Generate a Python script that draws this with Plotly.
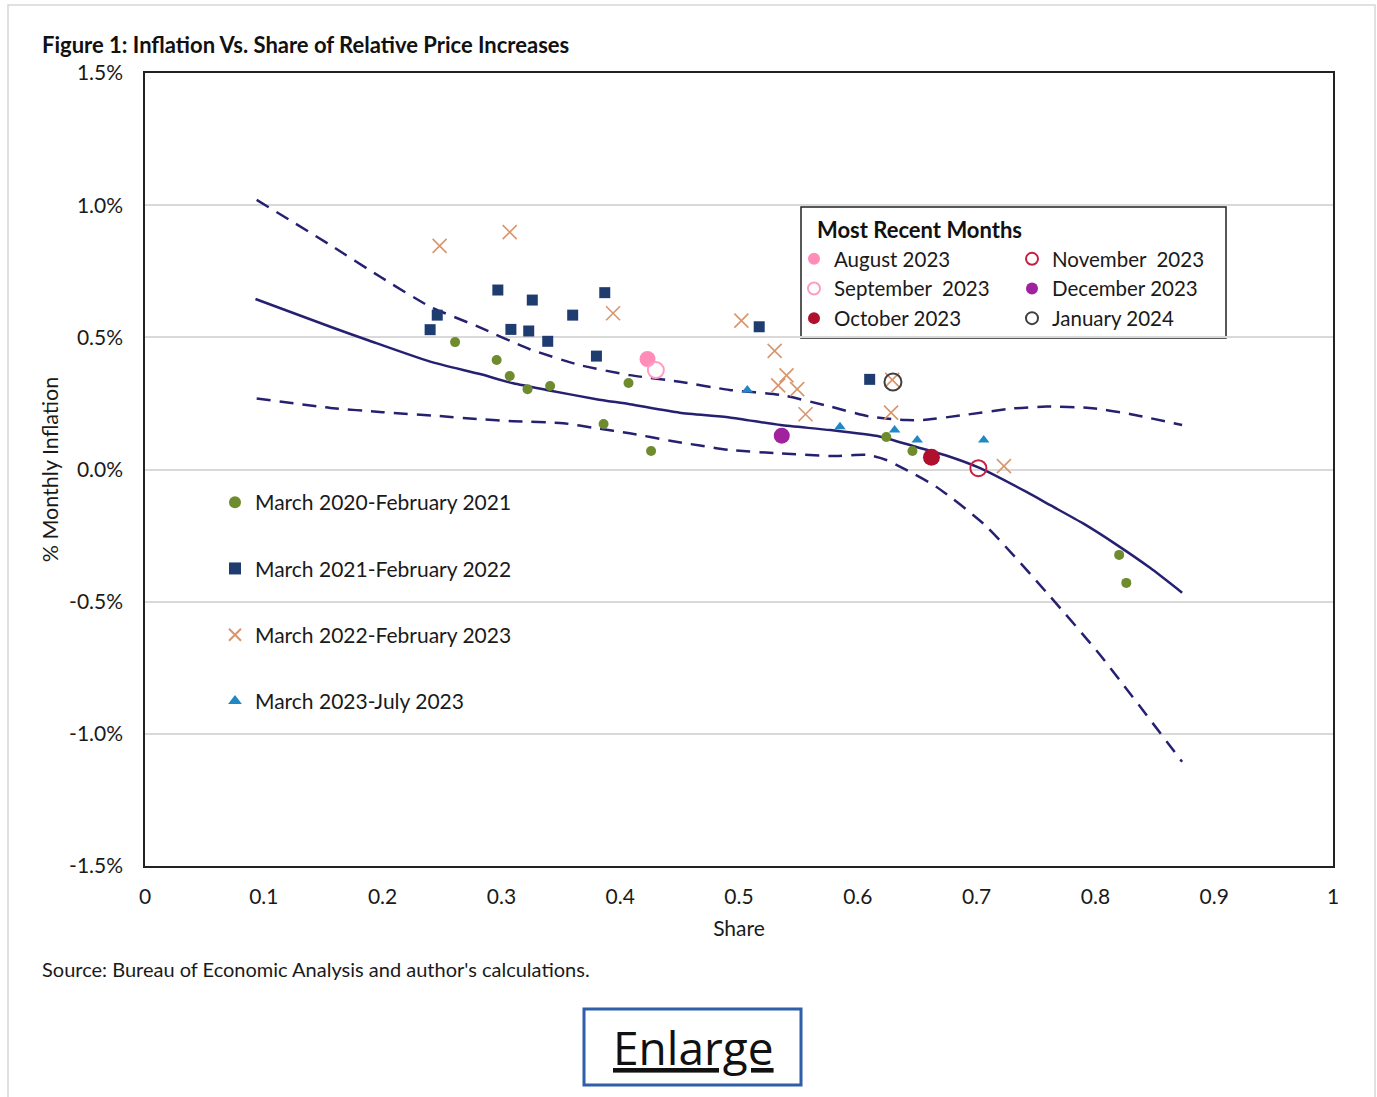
import plotly.graph_objects as go

FONT = "Lato"
TXT = "#1a1a1a"

# ---- data (share, % monthly inflation) ----
p2020_x = [0.261, 0.296, 0.307, 0.322, 0.341, 0.407, 0.386, 0.426, 0.624, 0.646, 0.820, 0.826]
p2020_y = [0.482, 0.414, 0.354, 0.304, 0.316, 0.327, 0.172, 0.070, 0.123, 0.070, -0.323, -0.429]

p2021_x = [0.246, 0.240, 0.297, 0.326, 0.360, 0.387, 0.308, 0.323, 0.339, 0.380, 0.517, 0.610]
p2021_y = [0.584, 0.529, 0.679, 0.641, 0.584, 0.669, 0.530, 0.524, 0.485, 0.429, 0.540, 0.341]

p2022_x = [0.248, 0.307, 0.394, 0.502, 0.530, 0.540, 0.533, 0.549, 0.556, 0.628, 0.723, 0.629]
p2022_y = [0.846, 0.898, 0.591, 0.563, 0.449, 0.356, 0.318, 0.304, 0.209, 0.215, 0.013, 0.339]

p2023_x = [0.507, 0.585, 0.631, 0.650, 0.706]
p2023_y = [0.301, 0.162, 0.149, 0.112, 0.112]

recent_names = ["August 2023", "September  2023", "October 2023",
                "November  2023", "December 2023", "January 2024"]
recent_x = [0.423, 0.430, 0.662, 0.7015, 0.536, 0.6296]
recent_y = [0.418, 0.376, 0.046, 0.005, 0.128, 0.331]

fit_x = [0.093, 0.156, 0.189, 0.240, 0.282, 0.310, 0.338, 0.380, 0.408, 0.450, 0.492,
         0.535, 0.577, 0.619, 0.647, 0.675, 0.703, 0.742, 0.762, 0.790, 0.818, 0.846, 0.873]
fit_y = [0.645, 0.540, 0.487, 0.408, 0.361, 0.326, 0.301, 0.266, 0.247, 0.215, 0.197,
         0.168, 0.149, 0.124, 0.088, 0.052, 0.005, -0.085, -0.135, -0.205, -0.285, -0.372, -0.466]

upper_x = [0.094, 0.156, 0.198, 0.240, 0.279, 0.324, 0.366, 0.408, 0.450, 0.492, 0.535,
           0.577, 0.610, 0.641, 0.655, 0.689, 0.731, 0.759, 0.795, 0.829, 0.873]
upper_y = [1.020, 0.849, 0.729, 0.616, 0.543, 0.455, 0.395, 0.357, 0.332, 0.301, 0.282,
           0.238, 0.200, 0.187, 0.187, 0.206, 0.231, 0.238, 0.233, 0.210, 0.168]

lower_x = [0.094, 0.156, 0.200, 0.248, 0.282, 0.310, 0.352, 0.380, 0.408, 0.442, 0.492,
           0.535, 0.577, 0.608, 0.624, 0.641, 0.666, 0.707, 0.762, 0.804, 0.873]
lower_y = [0.269, 0.233, 0.217, 0.202, 0.190, 0.183, 0.175, 0.156, 0.137, 0.109, 0.074,
           0.061, 0.051, 0.055, 0.036, -0.002, -0.065, -0.210, -0.481, -0.702, -1.106]

y_tickvals = [1.5, 1.0, 0.5, 0.0, -0.5, -1.0, -1.5]
y_ticktext = ["1.5%", "1.0%", "0.5%", "0.0%", "-0.5%", "-1.0%", "-1.5%"]
x_tickvals = [0, 0.1, 0.2, 0.3, 0.4, 0.5, 0.6, 0.7, 0.8, 0.9, 1]
x_ticktext = ["0", "0.1", "0.2", "0.3", "0.4", "0.5", "0.6", "0.7", "0.8", "0.9", "1"]

LINE_COL = "#252070"

fig = go.Figure()

# fitted lines
fig.add_trace(go.Scatter(x=upper_x, y=upper_y, mode="lines", showlegend=False,
                         line=dict(color=LINE_COL, width=2.5, dash="14px,9px", shape="spline", smoothing=0.6),
                         hoverinfo="skip"))
fig.add_trace(go.Scatter(x=lower_x, y=lower_y, mode="lines", showlegend=False,
                         line=dict(color=LINE_COL, width=2.5, dash="14px,9px", shape="spline", smoothing=0.6),
                         hoverinfo="skip"))
fig.add_trace(go.Scatter(x=fit_x, y=fit_y, mode="lines", showlegend=False,
                         line=dict(color=LINE_COL, width=2.5, shape="spline", smoothing=0.6),
                         hoverinfo="skip"))

# period series (left legend)
fig.add_trace(go.Scatter(x=p2020_x, y=p2020_y, mode="markers", name="March 2020-February 2021",
                         legendgroup="a", legend="legend",
                         marker=dict(symbol="circle", size=10, color="#6E8B2E")))
fig.add_trace(go.Scatter(x=p2021_x, y=p2021_y, mode="markers", name="March 2021-February 2022",
                         legendgroup="b", legend="legend",
                         marker=dict(symbol="square", size=11, color="#1F3C70")))
fig.add_trace(go.Scatter(x=p2022_x, y=p2022_y, mode="markers", name="March 2022-February 2023",
                         legendgroup="c", legend="legend",
                         marker=dict(symbol="x-thin", size=14, color="#D8956C",
                                     line=dict(color="#D8956C", width=1.6))))
fig.add_trace(go.Scatter(x=p2023_x, y=p2023_y, mode="markers", name="March 2023-July 2023",
                         legendgroup="d", legend="legend",
                         marker=dict(symbol="triangle-up", size=10, color="#2088C4")))

# recent months
recent_styles = [
    dict(symbol="circle", size=16, color="#FF8DB8"),
    dict(symbol="circle-open", size=16, color="#FF9CC6", line=dict(width=2)),
    dict(symbol="circle", size=17, color="#B0102E"),
    dict(symbol="circle-open", size=16, color="#C81E40", line=dict(width=2)),
    dict(symbol="circle", size=16, color="#A0229E"),
    dict(symbol="circle-open", size=17, color="#404040", line=dict(width=2)),
]
recent_legend = ["legend2", "legend2", "legend2", "legend3", "legend3", "legend3"]
for i in range(6):
    fig.add_trace(go.Scatter(x=[recent_x[i]], y=[recent_y[i]], mode="markers",
                             name=recent_names[i], legend=recent_legend[i],
                             marker=recent_styles[i]))

W, H = 1377, 1097
L, R, T, B = 145, 44, 73, 231
pw, ph = W - L - R, H - T - B


def px(xp):
    return (xp - L) / pw


def py(yp):
    return (H - B - yp) / ph


leg_font = dict(family=FONT, size=21, color=TXT)
box_font = dict(family=FONT, size=20.5, color=TXT)

fig.update_layout(
    width=W, height=H,
    margin=dict(l=L, r=R, t=T, b=B),
    paper_bgcolor="white", plot_bgcolor="white",
    font=dict(family=FONT, size=21, color=TXT),
    xaxis=dict(range=[0, 1], tickvals=x_tickvals, ticktext=x_ticktext, showgrid=False,
               zeroline=False, showline=True, mirror=True, linecolor="#222", linewidth=1.5,
               ticks="", ticklabelstandoff=11,
               title=dict(text="Share", font=dict(family=FONT, size=21, color=TXT), standoff=14)),
    yaxis=dict(range=[-1.5, 1.5], tickvals=y_tickvals, ticktext=y_ticktext, showgrid=True,
               gridcolor="#d9d9d9", gridwidth=1.5, zeroline=False, showline=True, mirror=True,
               linecolor="#222", linewidth=1.5, ticks="", ticklabelstandoff=16,
               title=dict(text="% Monthly Inflation", font=dict(family=FONT, size=21.5, color=TXT), standoff=5)),
    legend=dict(x=px(215), y=py(482), xanchor="left", yanchor="top", bgcolor="rgba(0,0,0,0)",
                font=leg_font, tracegroupgap=36, traceorder="grouped", itemsizing="constant"),
    legend2=dict(x=px(794), y=py(239), xanchor="left", yanchor="top", bgcolor="rgba(0,0,0,0)",
                 font=box_font, itemsizing="constant", tracegroupgap=0),
    legend3=dict(x=px(1012), y=py(239), xanchor="left", yanchor="top", bgcolor="rgba(0,0,0,0)",
                 font=box_font, itemsizing="constant", tracegroupgap=0),
    showlegend=True,
)

shapes = [
    # outer panel border
    dict(type="rect", xref="paper", yref="paper", x0=px(8), x1=px(1375), y0=py(1100), y1=py(5),
         line=dict(color="#d6d6d6", width=1.5), fillcolor="rgba(0,0,0,0)", layer="below"),
    # recent months legend box
    dict(type="rect", xref="paper", yref="paper", x0=px(801), x1=px(1226), y0=py(338), y1=py(207),
         line=dict(color="#222", width=1.5), fillcolor="white", layer="below"),
    # enlarge button box
    dict(type="rect", xref="paper", yref="paper", x0=px(584), x1=px(801), y0=py(1085), y1=py(1009),
         line=dict(color="#2E5FA8", width=3), fillcolor="white"),
]
fig.update_layout(shapes=shapes)

annotations = [
    dict(text="<b>Figure 1: Inflation Vs. Share of Relative Price Increases</b>", xref="paper", yref="paper",
         x=px(40), y=py(45), xanchor="left", yanchor="middle", showarrow=False,
         font=dict(family=FONT, size=22, color="#111")),
    dict(text="<b>Most Recent Months</b>", xref="paper", yref="paper",
         x=px(815), y=py(229), xanchor="left", yanchor="middle", showarrow=False,
         font=dict(family=FONT, size=22, color="#111")),
    dict(text="Source: Bureau of Economic Analysis and author's calculations.", xref="paper", yref="paper",
         x=px(40), y=py(969), xanchor="left", yanchor="middle", showarrow=False,
         font=dict(family=FONT, size=20, color=TXT)),
    dict(text="<u>Enlarge</u>", xref="paper", yref="paper",
         x=px(693), y=py(1047), xanchor="center", yanchor="middle", showarrow=False,
         font=dict(family="Open Sans", size=46, color="#111")),
]
fig.update_layout(annotations=annotations)

fig.write_html("out.html", config={"displayModeBar": False},
               post_script="document.body.style.margin='0';")
